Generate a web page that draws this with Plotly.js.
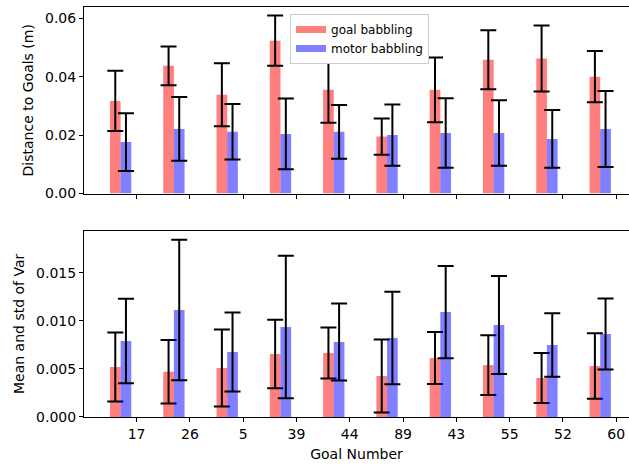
<!DOCTYPE html>
<html>
<head>
<meta charset="utf-8">
<script src="https://cdn.plot.ly/plotly-3.0.1.min.js"></script>
<style>
html, body { margin: 0; padding: 0; overflow: hidden; background: #fff; }
#chart { width: 629px; height: 466px; }
</style>
</head>
<body>
<div id="chart"></div>
<script>
// Data
const goals = ['17', '26', '5', '39', '44', '89', '43', '55', '52', '60'];
const seriesNames = ['goal babbling', 'motor babbling'];

const distGoalMean  = [0.0317, 0.0437, 0.0338, 0.0523, 0.0355, 0.0195, 0.0355, 0.0458, 0.0462, 0.0400];
const distGoalStd   = [0.0103, 0.0066, 0.0108, 0.0086, 0.0113, 0.0062, 0.0111, 0.0101, 0.0113, 0.0088];
const distMotorMean = [0.0176, 0.0221, 0.0211, 0.0204, 0.0211, 0.0200, 0.0207, 0.0207, 0.0187, 0.0221];
const distMotorStd  = [0.0099, 0.0109, 0.0095, 0.0121, 0.0092, 0.0105, 0.0119, 0.0112, 0.0099, 0.0130];

const varGoalMean  = [0.0052, 0.0047, 0.0051, 0.00655, 0.00665, 0.00426, 0.00613, 0.0054, 0.00405, 0.0053];
const varGoalStd   = [0.00358, 0.0033, 0.0040, 0.00355, 0.00265, 0.0038, 0.0027, 0.0031, 0.0026, 0.0034];
const varMotorMean = [0.0079, 0.01112, 0.00676, 0.00936, 0.0078, 0.00821, 0.01091, 0.00956, 0.00748, 0.00863];
const varMotorStd  = [0.0044, 0.0073, 0.0041, 0.0074, 0.0040, 0.0048, 0.0048, 0.0051, 0.0033, 0.0037];

const RED = 'rgba(255,0,0,0.5)';
const BLUE = 'rgba(0,0,255,0.5)';
const BAR_W = 0.2;
const idx = goals.map((g, i) => i);
const xRed = idx.map(i => i);
const xBlue = idx.map(i => i + BAR_W);
const xTick = idx.map(i => i + 2 * BAR_W);

function bars(x, y, err, color, name, xa, ya) {
  return {
    type: 'bar', x: x, y: y, width: BAR_W, name: name,
    xaxis: xa, yaxis: ya, showlegend: false,
    marker: { color: color, line: { width: 0 } },
    error_y: { type: 'data', array: err, visible: true, color: '#000', thickness: 2, width: 8 },
    hoverinfo: 'skip'
  };
}

// legend-only entries drawn as wide patches (matplotlib style)
function legendEntry(color, name) {
  return {
    type: 'scatter', mode: 'lines', x: [null], y: [null], name: name,
    xaxis: 'x', yaxis: 'y', showlegend: true,
    line: { color: color, width: 7 }, hoverinfo: 'skip'
  };
}

const data = [
  bars(xRed, distGoalMean, distGoalStd, RED, seriesNames[0], 'x', 'y'),
  bars(xBlue, distMotorMean, distMotorStd, BLUE, seriesNames[1], 'x', 'y'),
  bars(xRed, varGoalMean, varGoalStd, RED, seriesNames[0], 'x2', 'y2'),
  bars(xBlue, varMotorMean, varMotorStd, BLUE, seriesNames[1], 'x2', 'y2'),
  legendEntry(RED, seriesNames[0]),
  legendEntry(BLUE, seriesNames[1])
];

const FONT = 'DejaVu Sans, sans-serif';
const axisCommon = {
  showgrid: false, zeroline: false, showline: true, linecolor: '#000', linewidth: 1,
  ticks: 'outside', ticklen: 4, tickwidth: 1, tickcolor: '#000',
  tickfont: { family: FONT, size: 14, color: '#000' }
};

const xRange = [-0.587, 9.64];

const layout = {
  width: 629, height: 466,
  margin: { l: 84, r: 0, t: 7, b: 49 },
  paper_bgcolor: '#fff', plot_bgcolor: '#fff',
  font: { family: FONT, size: 14, color: '#000' },
  barmode: 'overlay',
  showlegend: true,
  legend: {
    x: 0.378, y: 0.983, xanchor: 'left', yanchor: 'top',
    bgcolor: '#fff', bordercolor: '#ccc', borderwidth: 1,
    font: { family: FONT, size: 12, color: '#000' },
    tracegroupgap: 0, itemwidth: 30
  },
  xaxis: Object.assign({}, axisCommon, {
    domain: [0, 1], anchor: 'y', range: xRange, mirror: true,
    tickmode: 'array', tickvals: xTick, ticktext: goals, showticklabels: false
  }),
  yaxis: Object.assign({}, axisCommon, {
    domain: [0.5451, 1], anchor: 'x', range: [0, 0.06385],
    tickmode: 'linear', tick0: 0, dtick: 0.02, tickformat: '.2f',
    title: { text: 'Distance to Goals (m)', font: { family: FONT, size: 14, color: '#000' }, standoff: 8 }
  }),
  xaxis2: Object.assign({}, axisCommon, {
    domain: [0, 1], anchor: 'y2', range: xRange, mirror: true,
    tickmode: 'array', tickvals: xTick, ticktext: goals,
    title: { text: 'Goal Number', font: { family: FONT, size: 14, color: '#000' }, standoff: 8 }
  }),
  yaxis2: Object.assign({}, axisCommon, {
    domain: [0, 0.4544], anchor: 'x2', range: [0, 0.01937],
    tickmode: 'linear', tick0: 0, dtick: 0.005, tickformat: '.3f',
    title: { text: 'Mean and std of Var', font: { family: FONT, size: 14, color: '#000' }, standoff: 8 }
  })
};

Plotly.newPlot('chart', data, layout, { displayModeBar: false, staticPlot: true });
</script>
</body>
</html>
